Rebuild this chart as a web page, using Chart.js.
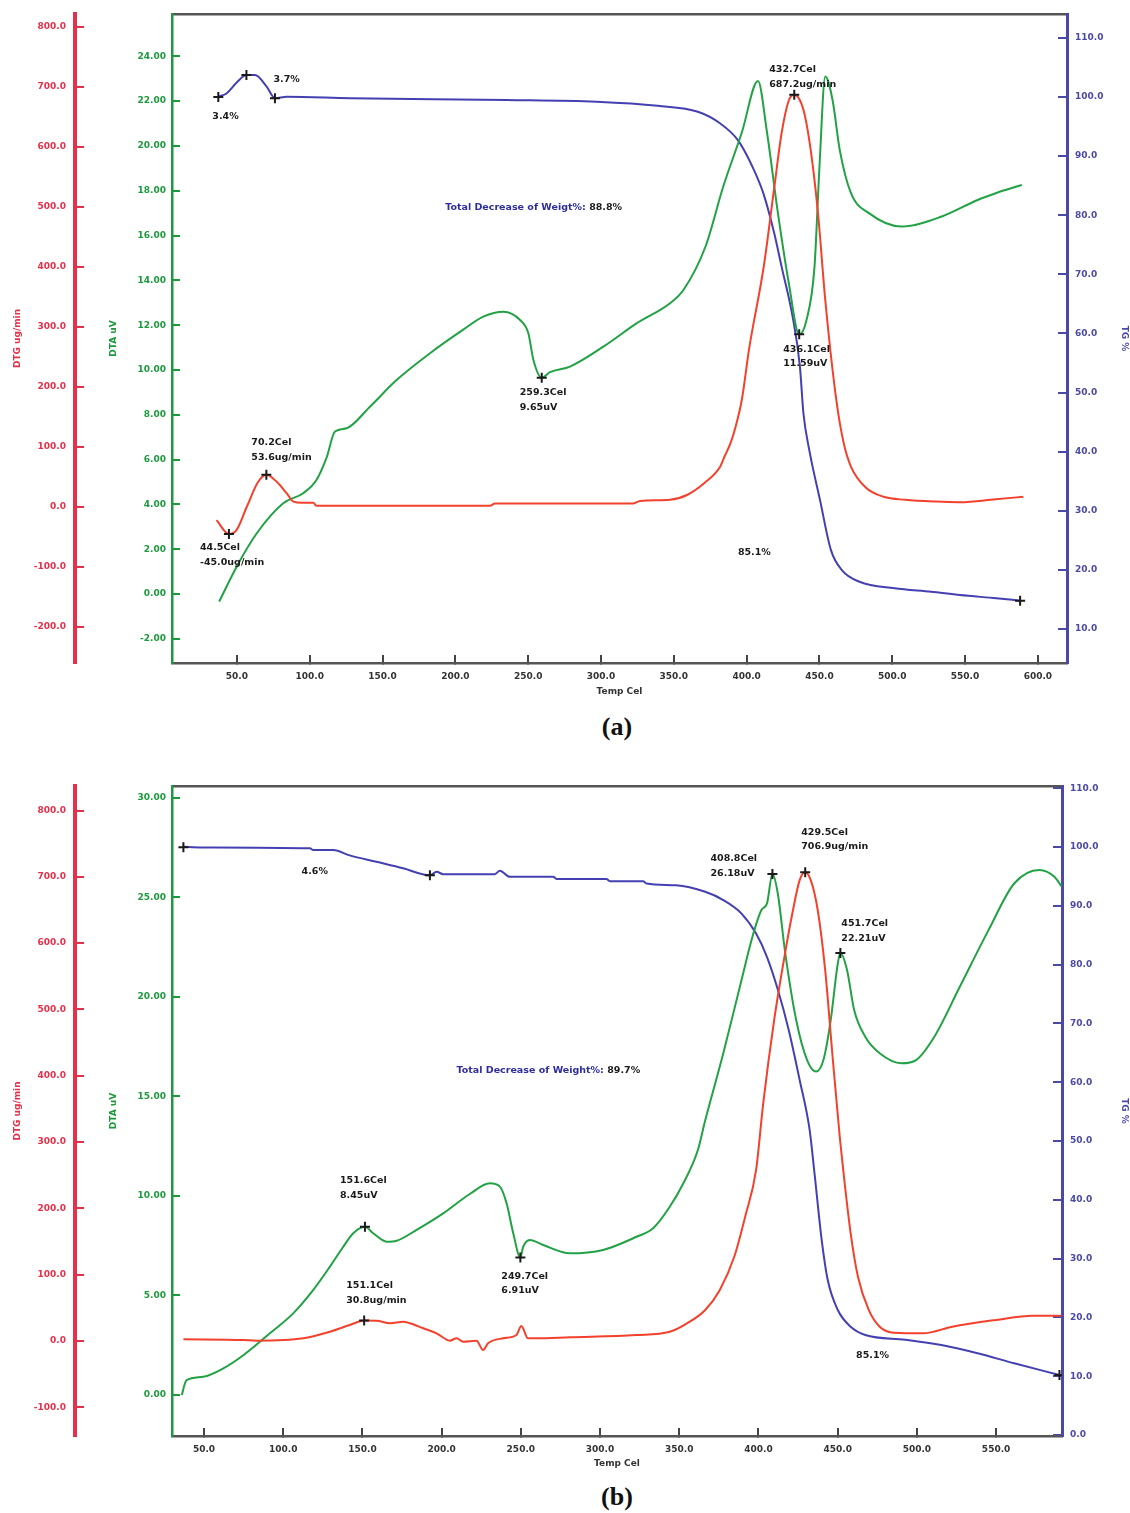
<!DOCTYPE html>
<html>
<head>
<meta charset="utf-8">
<title>TG / DTA / DTG curves</title>
<script src="https://cdn.jsdelivr.net/npm/chart.js@4.4.1/dist/chart.umd.min.js"></script>
<style>
  body { margin: 0; background: #fff; }
  #page { position: relative; width: 1130px; height: 1513px; overflow: hidden; }
  canvas { position: absolute; left: 0; }
  .cap { position: absolute; left: 567px; width: 100px; text-align: center;
         font: bold 26px "Liberation Serif", "DejaVu Serif", serif; color: #111; }
</style>
</head>
<body>
<div id="page">
  <canvas id="chartA" width="1130" height="705" style="top:0"></canvas>
  <div class="cap" style="top:712px">(a)</div>
  <canvas id="chartB" width="1130" height="706" style="top:772px"></canvas>
  <div class="cap" style="top:1482px">(b)</div>
</div>
<script>
// ---- panel (a) ----
const xTicksA = [50, 100, 150, 200, 250, 300, 350, 400, 450, 500, 550, 600];
const dtgTicksA = [-200, -100, 0, 100, 200, 300, 400, 500, 600, 700, 800];
const dtaTicksA = [-2, 0, 2, 4, 6, 8, 10, 12, 14, 16, 18, 20, 22, 24];
const tgTicksA = [10, 20, 30, 40, 50, 60, 70, 80, 90, 100, 110];

const tempDtgA = [36, 44.5, 49.8, 56.7, 64.6, 70.2, 77.3, 84.1, 88.7, 95, 102.4, 104.7, 150, 200, 223.8, 227.2,
  280, 322.2, 326.8, 347.4, 359, 371, 381.8, 385, 389, 392, 396.8, 401.6, 411.7, 419, 424, 429, 432.7, 439, 444,
  449, 454, 461.6, 466.6, 471.7, 481.6, 494, 509, 530, 546.6, 571, 590];
const dtgA = [-22, -45, -38, 0, 42, 53.6, 42, 23, 9, 7, 7, 2, 2, 2, 2, 6,
  6, 6, 10, 12, 20, 40, 67, 85, 107, 130, 180, 262, 400, 533, 623, 678, 687.2, 662, 595,
  490, 345, 178, 107, 67, 33, 17, 12, 9, 8, 13, 17];

const tempDtaA = [37.8, 49.8, 63.5, 81.8, 95.5, 104.7, 111.6, 117.3, 125.3, 141.3, 159.6, 182.6, 205.4, 219.2,
  232.9, 244.4, 250.1, 253.6, 259.3, 265, 278.7, 301.6, 324.4, 347.4, 356.6, 371.7, 384, 396.7, 407.8, 414,
  421.5, 429, 436.1, 441, 446.6, 450, 454, 459, 464, 471.6, 484, 506.5, 534, 559, 571.5, 589];
const dtaA = [-0.34, 1.22, 2.7, 4.05, 4.5, 5.1, 6.1, 7.25, 7.4, 8.36, 9.55, 10.75, 11.8, 12.38,
  12.6, 12.23, 11.64, 10.45, 9.65, 9.9, 10.15, 11.04, 12.08, 12.98, 13.57, 15.5, 18.2, 20.6, 22.9, 20.6,
  17, 13.86, 11.59, 12.2, 14.6, 19.05, 23.1, 22.05, 19.8, 17.9, 17, 16.4, 16.85, 17.6, 17.9, 18.26];

const tempTgA = [37.2, 42.8, 50, 56.5, 62.4, 70.4, 76.1, 84.2, 127.6, 235.2, 297, 339, 366.5, 381.7, 394,
  404, 411.5, 419, 424, 431.6, 436.6, 439, 443, 450.4, 457.9, 465.4, 477.5, 501.6, 526.7, 546.6, 571.5, 587.8];
const tgA = [100.05, 100.6, 102.5, 103.7, 103.7, 101.75, 99.8, 100.05, 99.8, 99.5, 99.2, 98.5, 97.5, 95.55, 92.7,
  88.2, 83.7, 76.9, 71.3, 62.8, 54.4, 46.5, 40.3, 31.8, 23.35, 19.97, 18, 16.9, 16.3, 15.75, 15.2, 14.8];

const markTempDtgA = [44.5, 70.2, 432.7];
const markDtgA = [-45.0, 53.6, 687.2];
const markTempDtaA = [259.3, 436.1];
const markDtaA = [9.65, 11.59];
const markTempTgA = [37.2, 56.5, 76.1, 587.8];
const markTgA = [100.0, 103.7, 99.8, 14.8];

// ---- panel (b) ----
const xTicksB = [50, 100, 150, 200, 250, 300, 350, 400, 450, 500, 550];
const dtgTicksB = [-100, 0, 100, 200, 300, 400, 500, 600, 700, 800];
const dtaTicksB = [0, 5, 10, 15, 20, 25, 30];
const tgTicksB = [0, 10, 20, 30, 40, 50, 60, 70, 80, 90, 100, 110];

const tempDtgB = [37, 74.8, 83.2, 112.6, 129.5, 142, 151.1, 158.9, 167.4, 175.8, 180, 188.4, 196.8, 205.2, 209.4,
  213.6, 222, 226.2, 229.3, 238.8, 247.2, 250.3, 254.5, 259.8, 280.8, 322.8, 344, 354.9, 366.4, 375.6, 384.7,
  391.6, 398.5, 403, 409.9, 416.8, 421.4, 426, 429.5, 433, 437.4, 442.1, 446.6, 451.3, 453.5, 458.2, 462.8,
  469.6, 476.5, 485.6, 504, 522.3, 550, 572.9, 591.2];
const dtgB = [2.6, 1.5, 0.5, 4, 14, 24, 30.8, 30.6, 26.7, 29.1, 26.7, 19.2, 11.6, 0.5, 4,
  -1, 0.5, -13.6, -3.5, 4, 9, 22.6, 4, 4, 5.6, 9, 14, 26.7, 46.8, 77, 127,
  187.5, 258, 358.5, 484, 585, 645, 695, 706.9, 695, 650, 559.6, 434, 308, 258, 162.4, 97,
  46.8, 21.6, 12.5, 11.6, 21.6, 31.7, 38.2, 38.2];

const tempDtaB = [36, 38, 39, 49.6, 62.2, 74.8, 91.6, 106.3, 119, 129.5, 137.9, 144.2, 151.6, 156.8, 165.3,
  171.6, 184.2, 201, 217.8, 230.4, 236.8, 241, 245.2, 249.7, 251.5, 255.7, 264.1, 280.9, 301.9, 323, 333.5,
  344, 352.6, 361.7, 366.4, 377.8, 389.3, 396.2, 401.9, 405.4, 408.8, 412.2, 416.9, 423.8, 430.7, 436.4, 441,
  445.6, 450.1, 451.7, 455.9, 460.4, 467.4, 476.5, 490.3, 499.5, 511, 527, 545.3, 561.4, 577.4, 586.6, 591.5];
const dtaB = [0, 0.59, 0.75, 0.92, 1.34, 2.0, 3.1, 4.1, 5.28, 6.45, 7.45, 8.13, 8.45, 8.13, 7.7,
  7.75, 8.3, 9.13, 10.1, 10.64, 10.47, 9.63, 8.13, 6.91, 7.45, 7.79, 7.54, 7.12, 7.29, 7.95, 8.38,
  9.46, 10.64, 12.3, 13.8, 17.17, 20.85, 23.03, 24.37, 24.7, 26.18, 25.2, 22.2, 18.84, 16.83, 16.25, 16.83,
  18.84, 21.7, 22.21, 21.36, 19.35, 18, 17.17, 16.67, 16.83, 18, 20.5, 23.37, 25.7, 26.38, 26.05, 25.54];

const tempTgB = [37, 47.5, 116.9, 119, 131.6, 142, 158.9, 175.7, 192.6, 196.8, 201, 233.6, 236.8, 243, 270.4,
  272.5, 304, 306.2, 327.2, 329.3, 348, 366.4, 377.8, 389.3, 398.5, 405.4, 412.3, 419.1, 426, 432.3, 435.5,
  439.9, 443.7, 450, 458.2, 467.4, 492.6, 515.5, 538.3, 561.4, 590];
const tgB = [100.05, 99.95, 99.8, 99.5, 99.5, 98.6, 97.5, 96.4, 95.2, 95.8, 95.4, 95.4, 96.0, 94.95, 94.95,
  94.6, 94.6, 94.2, 94.2, 93.8, 93.5, 92.4, 91, 88.7, 85.3, 81.3, 75.7, 68.9, 60.4, 51.9, 44.2,
  33.2, 26.4, 21.3, 18.4, 17, 16.2, 15.3, 13.9, 12.2, 10.2];

const markTempDtgB = [151.1, 429.5];
const markDtgB = [30.8, 706.9];
const markTempDtaB = [151.6, 249.7, 408.8, 451.7];
const markDtaB = [8.45, 6.91, 26.18, 22.21];
const markTempTgB = [37, 192.6, 590];
const markTgB = [100.0, 95.2, 10.2];

// colours
const RED_AX = '#e5304a', RED = '#f2412c';
const GREEN_AX = '#1c9a3c', GREEN = '#22a244';
const BLUE_AX = '#4a4aa6', BLUE = '#4540b2';
const INK = '#1a1a1a';
const BLUE_TXT = '#2e2ea0';

Chart.defaults.font.family = '"DejaVu Sans", "Liberation Sans", sans-serif';

function pts(xs, ys) {
  return xs.map((x, i) => ({ x: x, y: ys[i] }));
}

function curve(xs, ys, axis, color) {
  return {
    type: 'line', data: pts(xs, ys), yAxisID: axis, borderColor: color, borderWidth: 2,
    pointRadius: 0, cubicInterpolationMode: 'monotone', fill: false, order: 2
  };
}

function marks(xs, ys, axis) {
  return {
    type: 'scatter', data: pts(xs, ys), yAxisID: axis, pointStyle: 'cross', pointRadius: 5,
    borderColor: INK, borderWidth: 2, showLine: false, order: 1
  };
}

function fixedTicks(values) {
  return scale => { scale.ticks = values.map(v => ({ value: v })); };
}

// no extra room for labels that overhang the ends of an axis
function noPad(s) {
  s.paddingTop = 0; s.paddingBottom = 0; s.paddingLeft = 0; s.paddingRight = 0;
}

function sideAxis(o) {
  return {
    type: 'linear', position: o.position, weight: o.weight, min: o.range[0], max: o.range[1],
    afterBuildTicks: fixedTicks(o.ticks),
    afterFit: s => { s.width = o.width; noPad(s); },
    grid: { drawOnChartArea: false, color: o.color, lineWidth: 2, tickLength: o.tick },
    border: { color: o.color, width: o.borderWidth },
    ticks: {
      color: o.color, font: { size: 9, weight: 'bold' }, padding: o.padding, autoSkip: false,
      callback: v => v.toFixed(o.dec)
    },
    title: {
      display: true, text: o.title, color: o.color, font: { size: 9, weight: 'bold' },
      padding: { top: o.titlePad, bottom: 0 }
    }
  };
}

// text labels placed at data positions
const notesPlugin = {
  id: 'notes',
  afterDatasetsDraw(chart, args, opts) {
    const ctx = chart.ctx;
    ctx.save();
    ctx.font = 'bold 9.5px "DejaVu Sans", sans-serif';
    ctx.textBaseline = 'middle';
    ctx.textAlign = 'left';
    for (const n of opts.items) {
      const x0 = chart.scales.x.getPixelForValue(n.x) + (n.dx || 0);
      const y0 = chart.scales[n.axis].getPixelForValue(n.y) + (n.dy || 0);
      n.lines.forEach((line, i) => {
        let x = x0;
        const parts = Array.isArray(line) ? line : [[line, INK]];
        for (const [text, color] of parts) {
          ctx.fillStyle = color;
          ctx.fillText(text, x, y0 + i * 14.5);
          x += ctx.measureText(text).width;
        }
      });
    }
    ctx.restore();
  }
};

function makeChart(id, p) {
  return new Chart(document.getElementById(id), {
    data: {
      datasets: [
        curve(p.dtgT, p.dtg, 'yDTG', RED),
        curve(p.dtaT, p.dta, 'yDTA', GREEN),
        curve(p.tgT, p.tg, 'yTG', BLUE),
        marks(p.mDtgT, p.mDtg, 'yDTG'),
        marks(p.mDtaT, p.mDta, 'yDTA'),
        marks(p.mTgT, p.mTg, 'yTG')
      ]
    },
    options: {
      responsive: false,
      animation: false,
      layout: { padding: { top: 14, left: 0, right: 0, bottom: 0 } },
      plugins: { legend: { display: false }, tooltip: { enabled: false }, notes: { items: p.notes } },
      scales: {
        x: {
          type: 'linear', position: 'bottom', min: p.xRange[0], max: p.xRange[1],
          afterBuildTicks: fixedTicks(p.xTicks),
          afterFit: s => { s.height = p.xHeight; noPad(s); },
          grid: { drawOnChartArea: false, color: '#444', lineWidth: 2, tickLength: -8 },
          border: { color: '#555', width: 2.5 },
          ticks: { color: '#333', font: { size: 9, weight: 'bold' }, padding: 16, autoSkip: false, maxRotation: 0,
                   callback: v => v.toFixed(1) },
          title: { display: true, text: 'Temp Cel', color: '#333', font: { size: 9, weight: 'bold' },
                   padding: { top: 0, bottom: p.xTitlePad } }
        },
        xTop: {
          type: 'linear', position: 'top', min: p.xRange[0], max: p.xRange[1],
          afterFit: s => { s.height = 0; noPad(s); },
          grid: { drawOnChartArea: false, drawTicks: false },
          border: { color: '#555', width: 2.5 },
          ticks: { display: false }
        },
        yDTG: sideAxis({ position: 'left', weight: 2, range: p.dtgRange, ticks: p.dtgTicks, width: 75,
          color: RED_AX, borderWidth: 4, tick: -9, padding: 18, dec: 1, title: 'DTG ug/min', titlePad: 12 }),
        yDTA: sideAxis({ position: 'left', weight: 1, range: p.dtaRange, ticks: p.dtaTicks, width: 97,
          color: GREEN_AX, borderWidth: 2.5, tick: -8, padding: 14, dec: 2, title: 'DTA uV', titlePad: 33 }),
        yTG: sideAxis({ position: 'right', weight: 1, range: p.tgRange, ticks: p.tgTicks, width: p.tgWidth,
          color: BLUE_AX, borderWidth: 3, tick: -9, padding: 17, dec: 1, title: 'TG %', titlePad: 0 })
      }
    },
    plugins: [notesPlugin]
  });
}

makeChart('chartA', {
  xRange: [5.4, 620], dtgRange: [-260, 821.7], dtaRange: [-3.08, 25.89], tgRange: [4.25, 114.04],
  xTicks: xTicksA, dtgTicks: dtgTicksA, dtaTicks: dtaTicksA, tgTicks: tgTicksA,
  tgWidth: 63, xHeight: 42, xTitlePad: 8,
  dtgT: tempDtgA, dtg: dtgA, dtaT: tempDtaA, dta: dtaA, tgT: tempTgA, tg: tgA,
  mDtgT: markTempDtgA, mDtg: markDtgA, mDtaT: markTempDtaA, mDta: markDtaA, mTgT: markTempTgA, mTg: markTgA,
  notes: [
    { axis: 'yTG', x: 37.2, y: 100.0, dx: -6, dy: 20, lines: ['3.4%'] },
    { axis: 'yTG', x: 56.5, y: 103.7, dx: 27, dy: 4, lines: ['3.7%'] },
    { axis: 'yDTG', x: 70.2, y: 53.6, dx: -15, dy: -32, lines: ['70.2Cel', '53.6ug/min'] },
    { axis: 'yDTG', x: 44.5, y: -45.0, dx: -29, dy: 14, lines: ['44.5Cel', '-45.0ug/min'] },
    { axis: 'yDTA', x: 259.3, y: 9.65, dx: -22, dy: 15, lines: ['259.3Cel', '9.65uV'] },
    { axis: 'yDTG', x: 432.7, y: 687.2, dx: -25, dy: -25, lines: ['432.7Cel', '687.2ug/min'] },
    { axis: 'yDTA', x: 436.1, y: 11.59, dx: -16, dy: 15, lines: ['436.1Cel', '11.59uV'] },
    { axis: 'yDTA', x: 193, y: 17.23, lines: [[['Total Decrease of Weigt%: ', BLUE_TXT], ['88.8%', INK]]] },
    { axis: 'yDTA', x: 394, y: 1.83, lines: ['85.1%'] }
  ]
});

makeChart('chartB', {
  xRange: [29.8, 591.6], dtgRange: [-143.3, 837], dtaRange: [-2.06, 30.6], tgRange: [-0.17, 110.4],
  xTicks: xTicksB, dtgTicks: dtgTicksB, dtaTicks: dtaTicksB, tgTicks: tgTicksB,
  tgWidth: 68, xHeight: 42, xTitlePad: 9,
  dtgT: tempDtgB, dtg: dtgB, dtaT: tempDtaB, dta: dtaB, tgT: tempTgB, tg: tgB,
  mDtgT: markTempDtgB, mDtg: markDtgB, mDtaT: markTempDtaB, mDta: markDtaB, mTgT: markTempTgB, mTg: markTgB,
  notes: [
    { axis: 'yTG', x: 111.6, y: 95.8, lines: ['4.6%'] },
    { axis: 'yDTA', x: 151.6, y: 8.45, dx: -25, dy: -46, lines: ['151.6Cel', '8.45uV'] },
    { axis: 'yDTG', x: 151.1, y: 30.8, dx: -18, dy: -35, lines: ['151.1Cel', '30.8ug/min'] },
    { axis: 'yDTA', x: 249.7, y: 6.91, dx: -19, dy: 19, lines: ['249.7Cel', '6.91uV'] },
    { axis: 'yDTA', x: 408.8, y: 26.18, dx: -62, dy: -15, lines: ['408.8Cel', '26.18uV'] },
    { axis: 'yDTG', x: 429.5, y: 706.9, dx: -4, dy: -40, lines: ['429.5Cel', '706.9ug/min'] },
    { axis: 'yDTA', x: 451.7, y: 22.21, dx: 1, dy: -29, lines: ['451.7Cel', '22.21uV'] },
    { axis: 'yDTA', x: 209.4, y: 16.28, lines: [[['Total Decrease of Weight%: ', BLUE_TXT], ['89.7%', INK]]] },
    { axis: 'yTG', x: 461.6, y: 13.6, lines: ['85.1%'] }
  ]
});
</script>
</body>
</html>
